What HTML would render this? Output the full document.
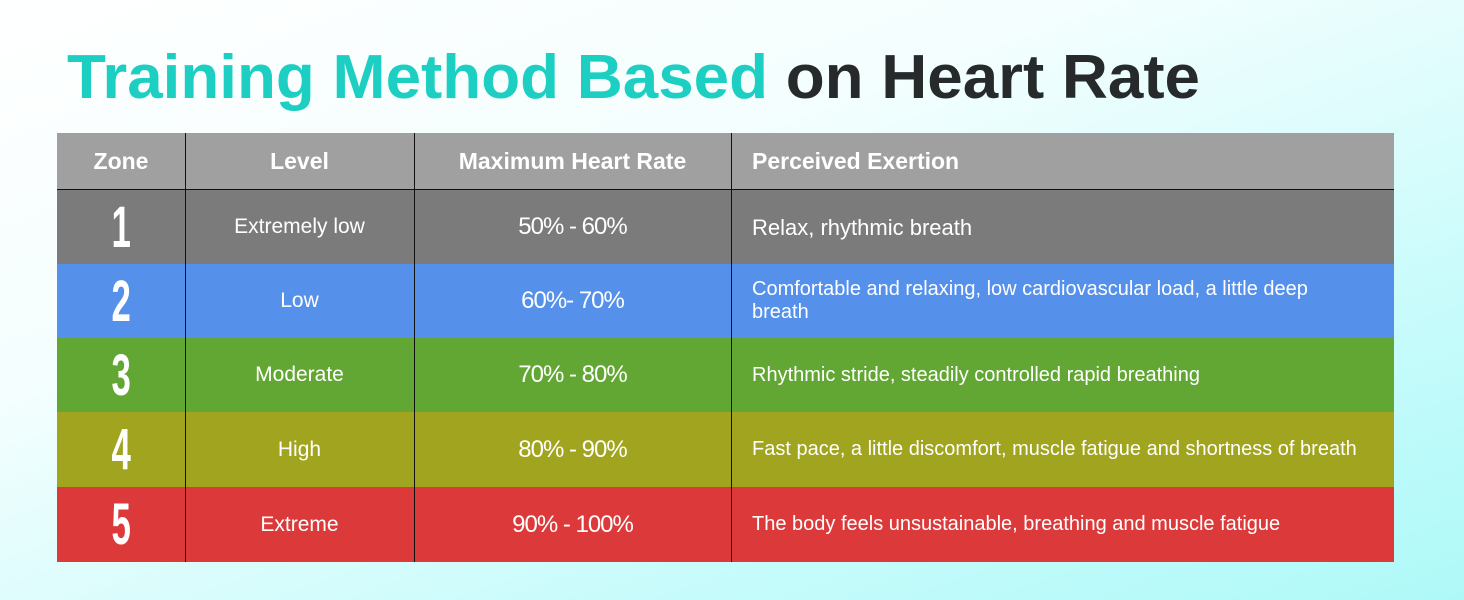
<!DOCTYPE html>
<html><head><meta charset="utf-8"><style>
html,body{margin:0;padding:0}
body{width:1464px;height:600px;overflow:hidden;position:relative;font-family:"Liberation Sans",sans-serif;
background:linear-gradient(160deg,#ffffff 0%,#f4fefe 35%,#c6fbfb 75%,#aef9f8 100%)}
.t{position:absolute;left:0;top:0}
.tbl{position:absolute;left:57px;top:133px;width:1337px}
.row{position:absolute;left:0;width:1337px;color:#fff}
.c{position:absolute;top:0;height:100%;display:flex;align-items:center}
.c1{left:0;width:128px;justify-content:center}
.c2{left:128px;width:229px;justify-content:center;font-size:21px}
.c3{left:357px;width:317px;justify-content:center;font-size:24px;letter-spacing:-1px}
.c4{left:674px;width:650px;padding-left:21px;font-size:20px;line-height:23px;white-space:nowrap}
.vl{position:absolute;top:0;width:1px;height:429px;background:#111}
.num{font-size:58px;font-weight:bold;transform:scaleX(0.6);font-family:"Liberation Sans Narrow","Liberation Sans",sans-serif}
</style></head><body>
<svg class="t" width="1464" height="130"><text x="67" y="98" font-family="Liberation Sans" font-weight="bold" font-size="62" textLength="1133" lengthAdjust="spacingAndGlyphs"><tspan fill="#1dcfc3">Training Method Based </tspan><tspan fill="#262a2b">on Heart Rate</tspan></text></svg>
<div class="tbl">
<div class="row" style="top:0;height:56px;background:#a0a0a0;font-weight:bold;font-size:23px;border-bottom:1px solid #111">
<div class="c c1">Zone</div><div class="c c2" style="font-size:23px">Level</div><div class="c c3" style="font-size:23px;letter-spacing:0">Maximum Heart Rate</div><div class="c c4" style="font-size:23px">Perceived Exertion</div></div>
<div class="row" style="top:57px;height:74px;background:#7b7b7b"><div class="c c1"><span class="num">1</span></div><div class="c c2">Extremely low</div><div class="c c3">50% - 60%</div><div class="c c4" style="font-size:22px">Relax, rhythmic breath</div></div>
<div class="row" style="top:131px;height:74px;background:#5590eb"><div class="c c1"><span class="num">2</span></div><div class="c c2">Low</div><div class="c c3">60%- 70%</div><div class="c c4">Comfortable and relaxing, low cardiovascular load, a little deep<br>breath</div></div>
<div class="row" style="top:205px;height:74px;background:#62a733"><div class="c c1"><span class="num">3</span></div><div class="c c2">Moderate</div><div class="c c3">70% - 80%</div><div class="c c4">Rhythmic stride, steadily controlled rapid breathing</div></div>
<div class="row" style="top:279px;height:75px;background:#a0a41e"><div class="c c1"><span class="num">4</span></div><div class="c c2">High</div><div class="c c3">80% - 90%</div><div class="c c4">Fast pace, a little discomfort, muscle fatigue and shortness of breath</div></div>
<div class="row" style="top:354px;height:75px;background:#dc3a3a"><div class="c c1"><span class="num">5</span></div><div class="c c2">Extreme</div><div class="c c3">90% - 100%</div><div class="c c4">The body feels unsustainable, breathing and muscle fatigue</div></div>
<div class="vl" style="left:128px"></div><div class="vl" style="left:357px"></div><div class="vl" style="left:674px"></div>
</div>
</body></html>
